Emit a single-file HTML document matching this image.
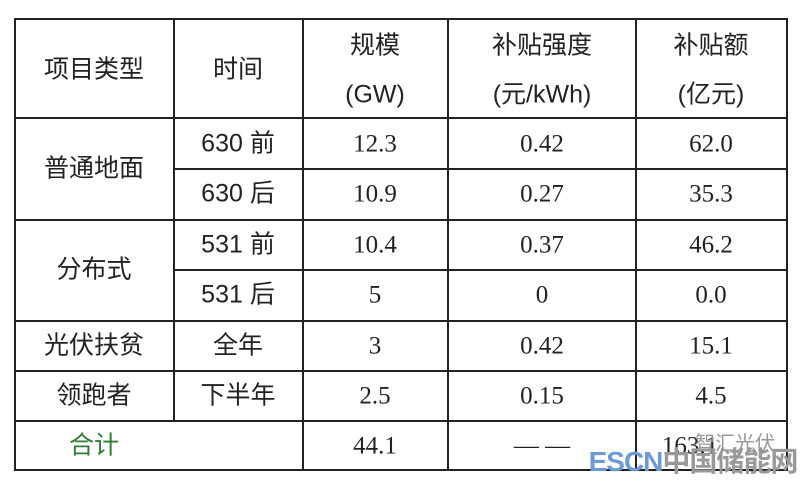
<!DOCTYPE html>
<html><head><meta charset="utf-8"><style>
body{margin:0;width:800px;height:482px;background:#fff;position:relative;overflow:hidden}
.h{position:absolute;height:2px;background:#222}
.v{position:absolute;width:2px;background:#222}
.t{position:absolute;text-align:center;font-size:25px;color:#222;line-height:1;white-space:nowrap;transform:translate(-50%,-50%)}
.s{font-family:"Liberation Sans","Noto Sans CJK SC",sans-serif}
.r{font-family:"Liberation Serif","Noto Sans CJK SC",serif}
</style></head><body>
<div class="h" style="left:15px;width:773px;top:18px"></div>
<div class="h" style="left:15px;width:773px;top:117px"></div>
<div class="h" style="left:174px;width:614px;top:168px"></div>
<div class="h" style="left:15px;width:773px;top:219px"></div>
<div class="h" style="left:174px;width:614px;top:269px"></div>
<div class="h" style="left:15px;width:773px;top:320px"></div>
<div class="h" style="left:15px;width:773px;top:370px"></div>
<div class="h" style="left:15px;width:773px;top:420px"></div>
<div class="h" style="left:15px;width:773px;top:469px"></div>
<div class="v" style="left:14px;top:18px;height:453px"></div>
<div class="v" style="left:173px;top:18px;height:402px"></div>
<div class="v" style="left:302px;top:18px;height:453px"></div>
<div class="v" style="left:447px;top:18px;height:453px"></div>
<div class="v" style="left:635px;top:18px;height:453px"></div>
<div class="v" style="left:786px;top:18px;height:453px"></div>

<div class="t s" style="left:94px;top:70px">项目类型</div>
<div class="t s" style="left:238px;top:70px">时间</div>
<div class="t s" style="left:375px;top:46px">规模</div>
<div class="t s" style="left:375px;top:95px">(GW)</div>
<div class="t s" style="left:542px;top:46px">补贴强度</div>
<div class="t s" style="left:542px;top:95px">(元/kWh)</div>
<div class="t s" style="left:711px;top:46px">补贴额</div>
<div class="t s" style="left:711px;top:95px">(亿元)</div>

<div class="t s" style="left:94px;top:169px">普通地面</div>
<div class="t s" style="left:94px;top:270px">分布式</div>
<div class="t s" style="left:94px;top:346px">光伏扶贫</div>
<div class="t s" style="left:94px;top:396px">领跑者</div>
<div class="t s" style="left:94px;top:446px;color:#2e7d32">合计</div>

<div class="t s" style="left:238px;top:144px">630 前</div>
<div class="t s" style="left:238px;top:194px">630 后</div>
<div class="t s" style="left:238px;top:245px">531 前</div>
<div class="t s" style="left:238px;top:295px">531 后</div>
<div class="t s" style="left:238px;top:346px">全年</div>
<div class="t s" style="left:238px;top:396px">下半年</div>

<div class="t r" style="left:375px;top:144px">12.3</div>
<div class="t r" style="left:375px;top:194px">10.9</div>
<div class="t r" style="left:375px;top:245px">10.4</div>
<div class="t r" style="left:375px;top:295px">5</div>
<div class="t r" style="left:375px;top:346px">3</div>
<div class="t r" style="left:375px;top:396px">2.5</div>
<div class="t r" style="left:375px;top:446px">44.1</div>

<div class="t r" style="left:542px;top:144px">0.42</div>
<div class="t r" style="left:542px;top:194px">0.27</div>
<div class="t r" style="left:542px;top:245px">0.37</div>
<div class="t r" style="left:542px;top:295px">0</div>
<div class="t r" style="left:542px;top:346px">0.42</div>
<div class="t r" style="left:542px;top:396px">0.15</div>
<div class="t r" style="left:542px;top:446px">— —</div>

<div class="t r" style="left:711px;top:144px">62.0</div>
<div class="t r" style="left:711px;top:194px">35.3</div>
<div class="t r" style="left:711px;top:245px">46.2</div>
<div class="t r" style="left:711px;top:295px">0.0</div>
<div class="t r" style="left:711px;top:346px">15.1</div>
<div class="t r" style="left:711px;top:396px">4.5</div>
<div class="t r" style="left:690px;top:446px">163.1</div>
<div class="t s" style="left:735px;top:444px;font-size:20px;color:#999">智汇光伏</div>
<div class="t s" style="left:693px;top:462px;font-size:28px;font-weight:bold;color:#6b9ad6;letter-spacing:-1px">ESCN<span style="color:#999">中国储能网</span></div>
</body></html>
